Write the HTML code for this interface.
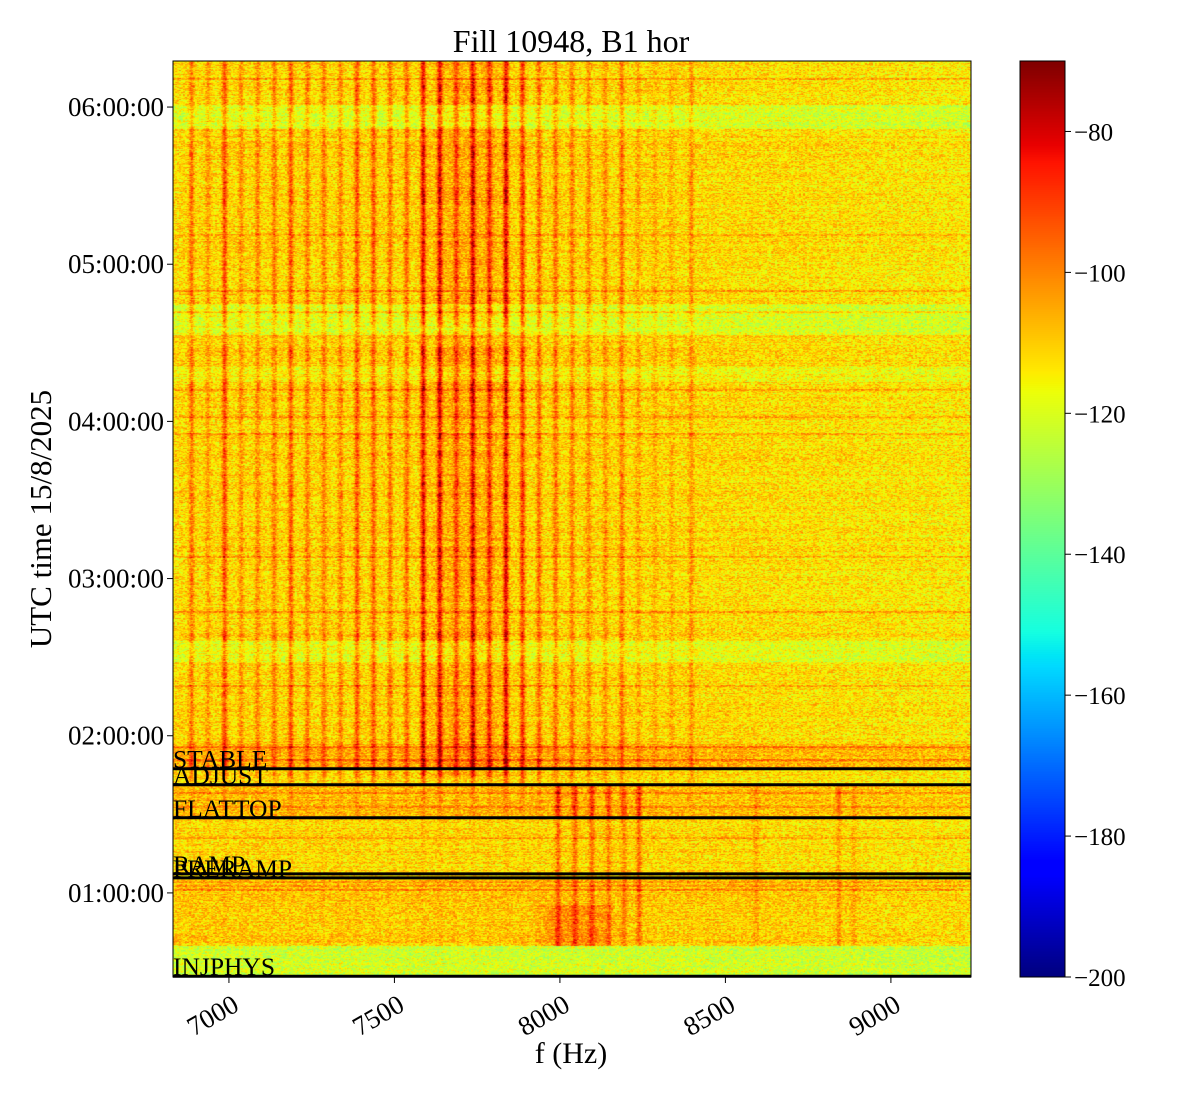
<!DOCTYPE html>
<html><head><meta charset="utf-8">
<style>
html,body{margin:0;padding:0;background:#fff;}
#wrap{position:relative;width:1200px;height:1100px;font-family:"Liberation Serif",serif;}
#spec{position:absolute;left:173px;top:61px;}
#cbar{position:absolute;left:1020px;top:61px;}
svg{position:absolute;left:0;top:0;}
</style></head>
<body>
<div id="wrap">
<canvas id="spec" width="798" height="916"></canvas>
<canvas id="cbar" width="45" height="916"></canvas>
<svg id="ov" width="1200" height="1100"></svg>
</div>
<script>
// ---- data ----
const lineFreqs = [6887,6937,6987,7037,7087,7137,7187,7237,7287,7337,7387,7437,7487,7537,7587,7637,7687,7737,7787,7837,7887,7937,7987,8037,8087,8137,8187,8237,8287,8337,8397];
const lineStrength = [0.5,0.3,0.7,0.35,0.4,0.45,0.65,0.45,0.45,0.4,0.65,0.6,0.5,0.55,1.0,0.95,0.6,0.95,0.7,1.0,0.8,0.55,0.5,0.45,0.4,0.35,0.5,0.25,0.2,0.2,0.35];
const lowLineFreqs = [7995,8046,8097,8148,8194,8239,8593,8843,8888];
const lowLineStrength = [0.9,0.8,0.8,0.7,0.6,0.8,0.4,0.5,0.35];
const bandStart = [5.86,4.55,4.25,2.47,0.465,1.79,1.48,0.66];
const bandEnd   = [6.01,4.75,4.35,2.60,0.66,1.95,1.69,1.10];
const bandOffset= [-8,-8,-4,-7,-10,6,4,2];
const redRowTimes = [6.18,5.19,4.83,4.70,4.20,4.03,3.92,3.14,2.79,2.32,1.93,1.85,1.64,1.55,1.35,1.07,1.045,1.02];
const eventNames = ["STABLE","ADJUST","FLATTOP","RAMP","PRERAMP","INJPHYS"];
const eventTimes = [1.79,1.688,1.478,1.121,1.096,0.47];
const xTicks = [7000,7500,8000,8500,9000];
const yTicks = [1,2,3,4,5,6];
const yTickLabels = ["01:00:00","02:00:00","03:00:00","04:00:00","05:00:00","06:00:00"];
const cbTicks = [-80,-100,-120,-140,-160,-180,-200];
const vmin=-200, vmax=-70;

// ---- axes ----
const PX0=173, PX1=971, PY0=61, PY1=977;
const F0=6831, F1=9242, T0=0.465, T1=6.293;
const xs = f => PX0 + (f-F0)/(F1-F0)*(PX1-PX0);
const ys = t => PY1 - (t-T0)/(T1-T0)*(PY1-PY0);
const cy = v => PY0 + (vmax-v)/(vmax-vmin)*(PY1-PY0);

function jet(x){
  x=Math.max(0,Math.min(1,x));
  const seg=(pts)=>{for(let i=1;i<pts.length;i++){if(x<=pts[i][0]){const a=pts[i-1],b=pts[i];return a[1]+(b[1]-a[1])*(x-a[0])/(b[0]-a[0]);}}return pts[pts.length-1][1];};
  return [seg([[0,0],[0.35,0],[0.66,1],[0.89,1],[1,0.5]]),seg([[0,0],[0.125,0],[0.375,1],[0.64,1],[0.91,0],[1,0]]),seg([[0,0.5],[0.11,1],[0.34,1],[0.65,0],[1,0]])];
}
function h(a,b){let n=(a*374761393+b*668265263)|0;n=(n^(n>>>13))*1274126177|0;n=n^(n>>>16);return ((n>>>0)%10000)/10000;}

// ---- spectrogram ----
(function(){
  const c=document.getElementById('spec'),ctx=c.getContext('2d');
  const W=c.width,H=c.height,img=ctx.createImageData(W,H),d=img.data;
  const rowBase=new Float32Array(H), lineAct=new Float32Array(H), lowAct=new Float32Array(H);
  for(let y=0;y<H;y++){
    const t=T1-(y+0.5)/H*(T1-T0);
    let v=-111.5+(h(y,7)-0.5)*5;
    for(let i=0;i<bandStart.length;i++) if(t>=bandStart[i]&&t<bandEnd[i]) v+=bandOffset[i];
    for(let i=0;i<redRowTimes.length;i++){ if(Math.abs(ys(redRowTimes[i])-PY0-y)<1) v+=8; }
    rowBase[y]=v;
    let la = t>1.74?1:(t>1.69?0.7:(t>1.48?0.25:0.1));
    if(t<0.66) la=0;
    if(t>=4.48&&t<4.60) la*=0.7;
    lineAct[y]=la*(0.8+0.4*h(Math.floor(y/6),11));
    lowAct[y]=(t>0.66&&t<1.69)?(t<1.48?0.8:1.1):0;
  }
  const colProf=new Float32Array(W), lowProf=new Float32Array(W), slope=new Float32Array(W), broad=new Float32Array(W), blob=new Float32Array(W);
  for(let x=0;x<W;x++){
    const f=F0+(x+0.5)/W*(F1-F0);
    let s=0; for(let i=0;i<lineFreqs.length;i++){const dd=(f-lineFreqs[i])/8; s+=lineStrength[i]*28*Math.exp(-dd*dd);} colProf[x]=s;
    let l=0; for(let i=0;i<lowLineFreqs.length;i++){const dd=(f-lowLineFreqs[i])/8; l+=lowLineStrength[i]*21*Math.exp(-dd*dd);} lowProf[x]=l;
    slope[x]= f>8500 ? -(f-8500)/700*2 : 0;
    const bb=(f-7720)/120; broad[x]=5*Math.exp(-bb*bb*bb*bb);
    const bl=(f-8050)/110; blob[x]=8*Math.exp(-bl*bl*bl*bl);
  }
  for(let y=0;y<H;y++){
    const t=T1-(y+0.5)/H*(T1-T0);
    const blobOn=(t>0.66&&t<0.92)?1:0;
    for(let x=0;x<W;x++){
      const n=(h(Math.floor(x/2)+y*1000,3)-0.5)*16+(h(x,y)-0.5)*8;
      let v=rowBase[y]+slope[x]+n+lineAct[y]*(colProf[x]+broad[x]*(t>1.74?1:0))+lowAct[y]*lowProf[x]+blobOn*blob[x];
      const cl=jet((v-vmin)/(vmax-vmin));const k=(y*W+x)*4;
      d[k]=cl[0]*255;d[k+1]=cl[1]*255;d[k+2]=cl[2]*255;d[k+3]=255;
    }
  }
  ctx.putImageData(img,0,0);
  const cb=document.getElementById('cbar'),cc=cb.getContext('2d');
  for(let y=0;y<cb.height;y++){const cl=jet(1-y/(cb.height-1));cc.fillStyle=`rgb(${cl[0]*255|0},${cl[1]*255|0},${cl[2]*255|0})`;cc.fillRect(0,y,45,1);}
})();

// ---- overlay ----
const NS="http://www.w3.org/2000/svg", ov=document.getElementById('ov');
function el(tag,attrs,txt){const e=document.createElementNS(NS,tag);for(const k in attrs)e.setAttribute(k,attrs[k]);if(txt!==undefined)e.textContent=txt;ov.appendChild(e);return e;}
let e;
e=el('rect',{x:PX0,y:PY0,width:PX1-PX0,height:PY1-PY0,fill:'none',stroke:'#000','stroke-width':1});


e=el('rect',{x:1020,y:PY0,width:45,height:PY1-PY0,fill:'none',stroke:'#000','stroke-width':1});


eventTimes.forEach((t,i)=>{
  const y=ys(t);
  e=el('line',{x1:PX0,x2:PX1,y1:y,y2:y,stroke:'#000','stroke-width':3});
  
  
  e=el('text',{x:PX0,y:y-1,'font-size':25.5,fill:'#000','font-family':'Liberation Serif, serif'},eventNames[i]);
  
  
});
xTicks.forEach(f=>{
  const x=xs(f);
  e=el('line',{x1:x,x2:x,y1:PY1,y2:PY1+6,stroke:'#000','stroke-width':1});
  
  
  e=el('text',{x:x+2,y:PY1+16,'font-size':27,'text-anchor':'end','dominant-baseline':'hanging',transform:`rotate(-30 ${x+2} ${PY1+16})`,'font-family':'Liberation Serif, serif'},String(f));
  
  
});
yTicks.forEach((t,i)=>{
  const y=ys(t);
  e=el('line',{x1:PX0-6,x2:PX0,y1:y,y2:y,stroke:'#000','stroke-width':1});
  
  
  e=el('text',{x:PX0-9,y:y+9,'font-size':27,'text-anchor':'end','font-family':'Liberation Serif, serif'},yTickLabels[i]);
  
  
});
cbTicks.forEach(v=>{
  const y=cy(v);
  e=el('line',{x1:1065,x2:1071,y1:y,y2:y,stroke:'#000','stroke-width':1});
  
  
  e=el('text',{x:1074,y:y+9,'font-size':25,'font-family':'Liberation Serif, serif'},'\u2212'+Math.abs(v));
  
  
});
e=el('text',{x:571,y:52,'font-size':32,'text-anchor':'middle','font-family':'Liberation Serif, serif'},'Fill 10948, B1 hor');


e=el('text',{x:571,y:1063,'font-size':30,'text-anchor':'middle','font-family':'Liberation Serif, serif'},'f (Hz)');


e=el('text',{x:51,y:519,'font-size':31,'text-anchor':'middle',transform:'rotate(-90 51 519)','font-family':'Liberation Serif, serif'},'UTC time 15/8/2025');


</script>
</body></html>
